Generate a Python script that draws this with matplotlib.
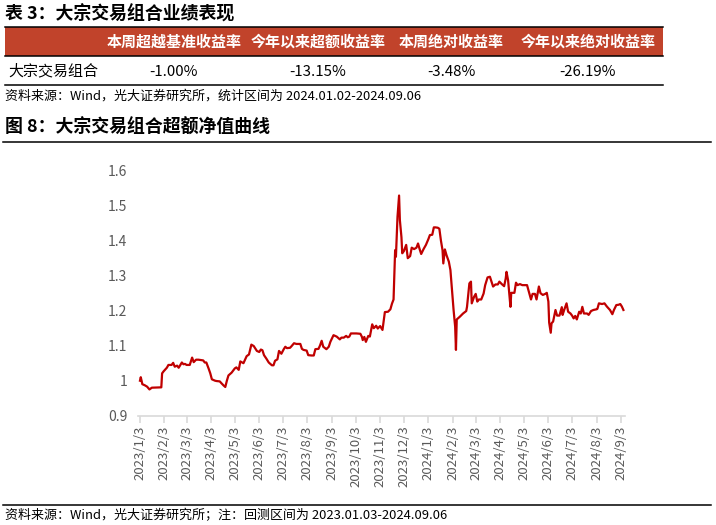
import numpy as np
import pandas as pd
import matplotlib
matplotlib.use('Agg')
import matplotlib.pyplot as plt
from matplotlib.lines import Line2D
from matplotlib.patches import Rectangle

plt.rcParams['font.family'] = ['Noto Sans CJK SC', 'DejaVu Sans']

# table 3
table_title = '表 3：大宗交易组合业绩表现'
table_headers = ['本周超越基准收益率', '今年以来超额收益率', '本周绝对收益率', '今年以来绝对收益率']
row_name = '大宗交易组合'
row_values = ['-1.00%', '-13.15%', '-3.48%', '-26.19%']
table_source = '资料来源：Wind，光大证券研究所，统计区间为 2024.01.02-2024.09.06'

# figure 8
chart_title = '图 8：大宗交易组合超额净值曲线'
chart_source = '资料来源：Wind，光大证券研究所；注：回测区间为 2023.01.03-2024.09.06'

dates = [
    '2023-01-03', '2023-01-04', '2023-01-06', '2023-01-09', '2023-01-12', '2023-01-15',
    '2023-01-18', '2023-01-30', '2023-01-31', '2023-02-02', '2023-02-06', '2023-02-08',
    '2023-02-12', '2023-02-14', '2023-02-16', '2023-02-19', '2023-02-21', '2023-02-25',
    '2023-02-27', '2023-03-01', '2023-03-03', '2023-03-07', '2023-03-10', '2023-03-12',
    '2023-03-15', '2023-03-18', '2023-03-24', '2023-03-26', '2023-03-28', '2023-03-31',
    '2023-04-02', '2023-04-04', '2023-04-08', '2023-04-10', '2023-04-14', '2023-04-16',
    '2023-04-19', '2023-04-21', '2023-04-23', '2023-04-25', '2023-04-29', '2023-05-03',
    '2023-05-05', '2023-05-08', '2023-05-10', '2023-05-14', '2023-05-16', '2023-05-18',
    '2023-05-21', '2023-05-24', '2023-05-27', '2023-05-31', '2023-06-03', '2023-06-05',
    '2023-06-07', '2023-06-09', '2023-06-12', '2023-06-15', '2023-06-19', '2023-06-21',
    '2023-06-23', '2023-06-26', '2023-06-28', '2023-07-01', '2023-07-04', '2023-07-06',
    '2023-07-08', '2023-07-12', '2023-07-14', '2023-07-17', '2023-07-20', '2023-07-25',
    '2023-07-27', '2023-07-29', '2023-08-02', '2023-08-04', '2023-08-08', '2023-08-11',
    '2023-08-13', '2023-08-17', '2023-08-19', '2023-08-21', '2023-08-23', '2023-08-27',
    '2023-08-30', '2023-09-01', '2023-09-05', '2023-09-09', '2023-09-13', '2023-09-15',
    '2023-09-18', '2023-09-21', '2023-09-23', '2023-09-25', '2023-09-27', '2023-09-30',
    '2023-10-04', '2023-10-09', '2023-10-11', '2023-10-12', '2023-10-14', '2023-10-16',
    '2023-10-19', '2023-10-21', '2023-10-24', '2023-10-26', '2023-10-29', '2023-10-31',
    '2023-11-03', '2023-11-06', '2023-11-09', '2023-11-13', '2023-11-16', '2023-11-18',
    '2023-11-20', '2023-11-22', '2023-11-23', '2023-11-25', '2023-11-27', '2023-11-28',
    '2023-11-30', '2023-12-01', '2023-12-03', '2023-12-06', '2023-12-08', '2023-12-11',
    '2023-12-13', '2023-12-16', '2023-12-19', '2023-12-21', '2023-12-23', '2023-12-25',
    '2023-12-28', '2023-12-31', '2024-01-03', '2024-01-05', '2024-01-08', '2024-01-10',
    '2024-01-12', '2024-01-15', '2024-01-17', '2024-01-19', '2024-01-21', '2024-01-22',
    '2024-01-24', '2024-01-26', '2024-01-29', '2024-01-31', '2024-02-02', '2024-02-04',
    '2024-02-06', '2024-02-07', '2024-02-08', '2024-02-12', '2024-02-16', '2024-02-20',
    '2024-02-21', '2024-02-24', '2024-02-26', '2024-02-27', '2024-03-01', '2024-03-03',
    '2024-03-05', '2024-03-07', '2024-03-10', '2024-03-13', '2024-03-15', '2024-03-18',
    '2024-03-21', '2024-03-25', '2024-03-28', '2024-03-31', '2024-04-02', '2024-04-05',
    '2024-04-08', '2024-04-10', '2024-04-11', '2024-04-13', '2024-04-16', '2024-04-17',
    '2024-04-21', '2024-04-23', '2024-04-25', '2024-04-28', '2024-05-01', '2024-05-04',
    '2024-05-07', '2024-05-09', '2024-05-12', '2024-05-14', '2024-05-17', '2024-05-19',
    '2024-05-22', '2024-05-24', '2024-05-27', '2024-05-30', '2024-06-01', '2024-06-03',
    '2024-06-04', '2024-06-06', '2024-06-07', '2024-06-09', '2024-06-12', '2024-06-14',
    '2024-06-17', '2024-06-20', '2024-06-21', '2024-06-23', '2024-06-26', '2024-06-28',
    '2024-07-01', '2024-07-03', '2024-07-05', '2024-07-07', '2024-07-09', '2024-07-12',
    '2024-07-14', '2024-07-16', '2024-07-18', '2024-07-22', '2024-07-24', '2024-07-27',
    '2024-07-30', '2024-08-03', '2024-08-04', '2024-08-06', '2024-08-10', '2024-08-13',
    '2024-08-16', '2024-08-20', '2024-08-23', '2024-08-25', '2024-08-28', '2024-08-31',
    '2024-09-02', '2024-09-04', '2024-09-06',
]
nav = [
    1.000, 1.010, 0.990, 0.987, 0.983, 0.975,
    0.980, 0.981, 1.021, 1.027, 1.037, 1.045,
    1.045, 1.051, 1.040, 1.043, 1.037, 1.052,
    1.047, 1.048, 1.045, 1.045, 1.066, 1.053,
    1.060, 1.060, 1.058, 1.052, 1.052, 1.034,
    1.021, 1.004, 1.000, 0.999, 0.998, 0.993,
    0.986, 0.982, 1.000, 1.015, 1.023, 1.035,
    1.038, 1.031, 1.055, 1.050, 1.060, 1.070,
    1.075, 1.103, 1.099, 1.085, 1.082, 1.089,
    1.087, 1.073, 1.063, 1.052, 1.044, 1.044,
    1.057, 1.061, 1.085, 1.077, 1.090, 1.097,
    1.093, 1.094, 1.099, 1.107, 1.105, 1.105,
    1.091, 1.088, 1.086, 1.073, 1.072, 1.072,
    1.090, 1.091, 1.101, 1.114, 1.097, 1.090,
    1.097, 1.111, 1.130, 1.126, 1.118, 1.123,
    1.123, 1.128, 1.124, 1.126, 1.135, 1.135,
    1.135, 1.134, 1.125, 1.116, 1.125, 1.111,
    1.128, 1.126, 1.161, 1.150, 1.157, 1.149,
    1.156, 1.145, 1.196, 1.197, 1.204, 1.220,
    1.232, 1.373, 1.354, 1.468, 1.529, 1.459,
    1.410, 1.364, 1.370, 1.388, 1.350, 1.356,
    1.380, 1.376, 1.380, 1.392, 1.376, 1.362,
    1.376, 1.388, 1.404, 1.416, 1.417, 1.438,
    1.438, 1.437, 1.434, 1.400, 1.373, 1.335,
    1.375, 1.359, 1.340, 1.316, 1.259, 1.202,
    1.154, 1.088, 1.175, 1.183, 1.192, 1.199,
    1.211, 1.278, 1.283, 1.221, 1.240, 1.248,
    1.226, 1.232, 1.232, 1.249, 1.273, 1.295,
    1.297, 1.269, 1.275, 1.275, 1.283, 1.276,
    1.270, 1.292, 1.311, 1.287, 1.211, 1.251,
    1.251, 1.280, 1.273, 1.276, 1.273, 1.273,
    1.273, 1.257, 1.232, 1.248, 1.248, 1.232,
    1.269, 1.250, 1.245, 1.248, 1.251, 1.226,
    1.166, 1.137, 1.164, 1.169, 1.202, 1.186,
    1.186, 1.210, 1.188, 1.202, 1.221, 1.197,
    1.192, 1.186, 1.178, 1.185, 1.175, 1.197,
    1.192, 1.211, 1.192, 1.192, 1.188, 1.199,
    1.202, 1.204, 1.205, 1.221, 1.219, 1.221,
    1.212, 1.202, 1.190, 1.202, 1.216, 1.217,
    1.219, 1.212, 1.202,
]
y_ticks = [0.9, 1.0, 1.1, 1.2, 1.3, 1.4, 1.5, 1.6]
y_labels = ['0.9', '1', '1.1', '1.2', '1.3', '1.4', '1.5', '1.6']

W, H = 716, 525


def fx(x):
    return x / W


def fy(y):
    return 1 - y / H


fig = plt.figure(figsize=(W / 100, H / 100), dpi=100)

# ---- table 3 ----
fig.text(fx(5), fy(14), table_title, fontsize=12.9, fontweight='bold', va='center', ha='left')
fig.add_artist(Rectangle((fx(5), fy(56)), fx(663) - fx(5), fy(27) - fy(56),
                         transform=fig.transFigure, facecolor='#C1432B', edgecolor='none'))
for yy in [27, 56, 85]:
    fig.add_artist(Line2D([fx(5), fx(663)], [fy(yy), fy(yy)], color='black', lw=1.1,
                          transform=fig.transFigure))
col_x = [174, 318, 451, 588]
for cx, head, val in zip(col_x, table_headers, row_values):
    fig.text(fx(cx), fy(42), head, fontsize=10.8, fontweight='bold', color='white',
             ha='center', va='center')
    fig.text(fx(cx), fy(71.5), val, fontsize=10.8, ha='center', va='center')
fig.text(fx(8), fy(71.5), row_name, fontsize=10.8, ha='left', va='center')
fig.text(fx(5), fy(96), table_source, fontsize=9.35, ha='left', va='center')

# ---- figure 8 ----
fig.text(fx(5), fy(128), chart_title, fontsize=12.9, fontweight='bold', va='center', ha='left')
fig.add_artist(Line2D([fx(3), fx(711)], [fy(141.5), fy(141.5)], color='black', lw=1.1,
                      transform=fig.transFigure))
fig.add_artist(Line2D([fx(3), fx(711)], [fy(505), fy(505)], color='black', lw=1.1,
                      transform=fig.transFigure))
fig.text(fx(5), fy(516), chart_source, fontsize=9.35, ha='left', va='center')

ax = fig.add_axes([0.1933, 0.2082, 0.6796, 0.4667])
ax.plot(pd.to_datetime(dates), nav, color='#C00000', lw=1.6, solid_joinstyle='round')

ax.set_ylim(0.9, 1.6)
ax.set_yticks(y_ticks)
ax.set_yticklabels(y_labels)
ax.set_xlim(pd.Timestamp('2023-01-01'), pd.Timestamp('2024-09-08'))
month_ticks = pd.date_range('2023-01-01', '2024-09-01', freq='MS') + pd.Timedelta(days=2)
ax.set_xticks(month_ticks)
ax.set_xticklabels([f'{d.year}/{d.month}/{d.day}' for d in month_ticks], rotation=90)

for side in ['top', 'right', 'left']:
    ax.spines[side].set_visible(False)
ax.spines['bottom'].set_color('#D9D9D9')
ax.spines['bottom'].set_linewidth(1.2)
ax.tick_params(axis='y', length=0, pad=8, labelsize=10, labelcolor='#595959')
ax.tick_params(axis='x', length=5, width=1.2, color='#D9D9D9', pad=2,
               labelsize=9.5, labelcolor='#595959')

fig.savefig('out.png', dpi=100)
